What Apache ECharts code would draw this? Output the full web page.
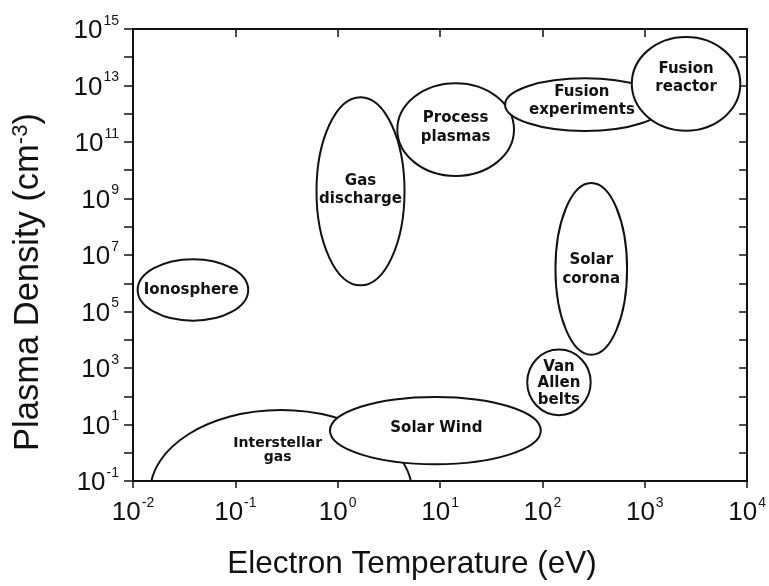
<!DOCTYPE html>
<html>
<head>
<meta charset="utf-8">
<script src="https://cdn.jsdelivr.net/npm/echarts@6/dist/echarts.min.js"></script>
<style>
  html, body { margin: 0; padding: 0; background: #fff; }
  #chart { width: 769px; height: 586px; }
</style>
</head>
<body>
<div id="chart"></div>
<script>
// Plasma regimes: each region is an ellipse in log-log space.
// Centres are in eV / cm^-3; spreads are half-widths in decades.
const regionNames = ['Interstellar\ngas', 'Solar Wind', 'Ionosphere', 'Process\nplasmas',
  'Gas\ndischarge', 'Fusion\nexperiments', 'Fusion\nreactor', 'Solar\ncorona', 'Van\nAllen\nbelts'];
const centerTemp    = [0.28, 9.0, 0.0385, 14.2, 1.67, 260, 2530, 300, 145];
const centerDensity = [0.039, 6.1, 5.8e5, 2.75e11, 1.8e9, 2.1e12, 1.15e13, 3.2e6, 310];
const spreadTemp    = [1.28, 1.03, 0.54, 0.57, 0.43, 0.78, 0.53, 0.35, 0.31];
const spreadDensity = [2.92, 1.19, 1.09, 1.64, 3.33, 0.93, 1.66, 3.04, 1.16];
const labelTemp     = [0.259, 9.2, 0.0370, 14.2, 1.67, 243, 2530, 300, 145];
const labelDensity  = [1.23, 7.4, 5.8e5, 3.2e11, 2.0e9, 2.75e12, 1.86e13, 3.0e6, 286];

// Axis ranges (powers of ten)
const tempExpMin = -2, tempExpMax = 4;
const densExpMin = -1, densExpMax = 15;

const regionData = regionNames.map((name, i) => ({
  name: name,
  value: [centerTemp[i], centerDensity[i], spreadTemp[i], spreadDensity[i], labelTemp[i], labelDensity[i]]
}));

const FONT = '"Liberation Sans", Arial, Helvetica, sans-serif';

function powerLabel(v) {
  const e = Math.round(Math.log10(v));
  return '{b|10}{s|' + e + '}';
}
const powerRich = {
  b: { fontFamily: FONT, fontSize: 26, color: '#111', lineHeight: 30, verticalAlign: 'bottom' },
  s: { fontFamily: FONT, fontSize: 14, color: '#111', lineHeight: 30, verticalAlign: 'top', padding: [0, 0, 14, 1] }
};

function renderRegion(params, api) {
  const ct = api.value(0), cd = api.value(1);
  const st = Math.pow(10, api.value(2)), sd = Math.pow(10, api.value(3));
  const c = api.coord([ct, cd]);
  const l = api.coord([ct / st, cd]);
  const r = api.coord([ct * st, cd]);
  const t = api.coord([ct, cd * sd]);
  const b = api.coord([ct, cd / sd]);
  const lp = api.coord([api.value(4), api.value(5)]);
  const name = regionNames[params.dataIndex];
  const lines = name.split('\n').length;
  const small = params.dataIndex === 0;
  const cs = params.coordSys;
  return {
    type: 'group',
    children: [{
      type: 'ellipse',
      shape: { cx: c[0], cy: c[1], rx: (r[0] - l[0]) / 2, ry: (b[1] - t[1]) / 2 },
      style: { fill: '#fff', stroke: '#111', lineWidth: 2 },
      clipPath: { type: 'rect', shape: { x: cs.x, y: cs.y, width: cs.width, height: cs.height } }
    }, {
      type: 'text',
      x: lp[0], y: lp[1],
      style: {
        text: name,
        fill: '#111',
        fontFamily: '"DejaVu Sans", sans-serif',
        fontWeight: 'bold',
        fontSize: small ? 14 : 15,
        lineHeight: small ? 14 : (lines > 2 ? 16.5 : 18.5),
        align: 'center',
        verticalAlign: 'middle'
      }
    }]
  };
}

const axisLineStyle = { color: '#111', width: 2 };
const tickStyle = { color: '#111', width: 1.5 };

const chart = echarts.init(document.getElementById('chart'), null, { renderer: 'canvas' });
chart.setOption({
  backgroundColor: '#fff',
  animation: false,
  grid: { left: 133, right: 21, top: 29, bottom: 105, containLabel: false },
  xAxis: [{
    type: 'log', logBase: 10, position: 'bottom', z: 5,
    min: Math.pow(10, tempExpMin), max: Math.pow(10, tempExpMax), interval: 1,
    axisLine: { show: true, lineStyle: axisLineStyle },
    axisTick: { show: true, inside: false, length: 7, lineStyle: tickStyle },
    axisLabel: { formatter: powerLabel, rich: powerRich, margin: 15 },
    splitLine: { show: false }, minorTick: { show: false }
  }, {
    type: 'log', logBase: 10, position: 'top', z: 5,
    min: Math.pow(10, tempExpMin), max: Math.pow(10, tempExpMax), interval: 1,
    axisLine: { show: true, lineStyle: axisLineStyle },
    axisTick: { show: true, inside: true, length: 8, lineStyle: tickStyle },
    axisLabel: { show: false }, splitLine: { show: false }
  }],
  yAxis: [{
    type: 'log', logBase: 10, position: 'left', z: 5,
    min: Math.pow(10, densExpMin), max: Math.pow(10, densExpMax), interval: 1,
    axisLine: { show: true, lineStyle: axisLineStyle },
    axisTick: { show: true, inside: false, length: 9, lineStyle: tickStyle },
    axisLabel: {
      formatter: v => (Math.round(Math.log10(v)) % 2 !== 0 ? powerLabel(v) : ''),
      rich: powerRich, margin: 14
    },
    splitLine: { show: false }, minorTick: { show: false }
  }, {
    type: 'log', logBase: 10, position: 'right', z: 5,
    min: Math.pow(10, densExpMin), max: Math.pow(10, densExpMax), interval: 1,
    axisLine: { show: true, lineStyle: axisLineStyle },
    axisTick: { show: true, inside: true, length: 8, lineStyle: tickStyle },
    axisLabel: { show: false }, splitLine: { show: false }
  }],
  graphic: [{
    type: 'text', x: 412, y: 564,
    style: {
      text: 'Electron Temperature (eV)', fill: '#111',
      fontFamily: FONT, fontSize: 31.5, align: 'center', verticalAlign: 'middle'
    }
  }, {
    type: 'text', x: 28, y: 282, rotation: Math.PI / 2,
    style: {
      text: 'Plasma Density (cm{s|-3})', fill: '#111',
      fontFamily: FONT, fontSize: 34.5, align: 'center', verticalAlign: 'middle',
      rich: { s: { fontFamily: FONT, fontSize: 22, verticalAlign: 'top', padding: [0, 0, 14, 0], fill: '#111' } }
    }
  }],
  series: [{
    type: 'custom',
    xAxisIndex: 0, yAxisIndex: 0,
    renderItem: renderRegion,
    encode: { x: 0, y: 1 },
    data: regionData,
    z: 2
  }]
});
</script>
</body>
</html>
